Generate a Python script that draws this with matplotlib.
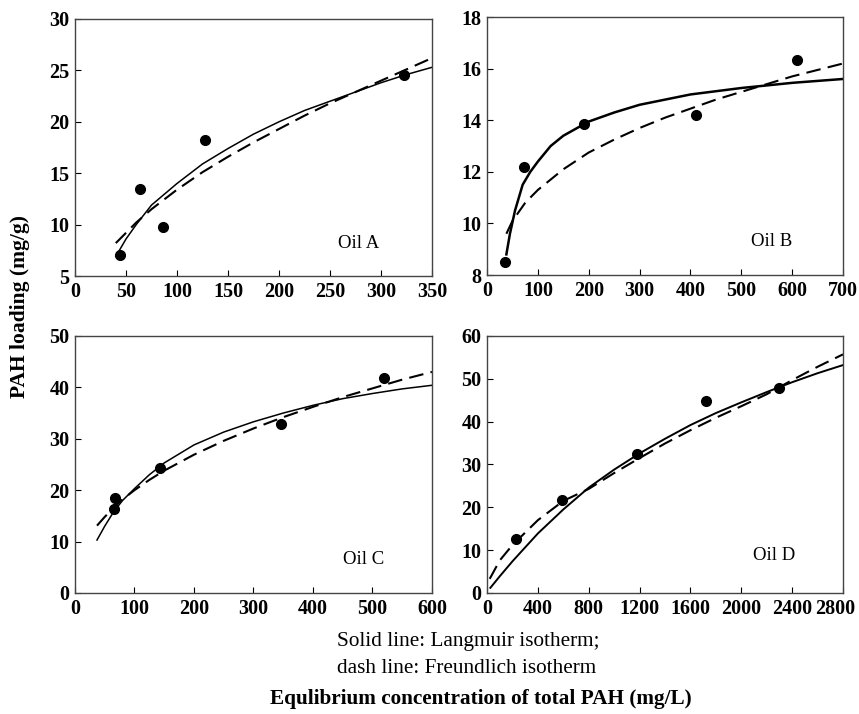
import matplotlib
matplotlib.use("Agg")
import matplotlib.pyplot as plt
from matplotlib.transforms import ScaledTranslation

plt.rcParams['font.family'] = ['Liberation Serif', 'DejaVu Serif']

# measured points (equilibrium conc, PAH loading)
a_x = [44, 64, 86, 127, 323]
a_y = [7.0, 13.5, 9.8, 18.2, 24.6]
b_x = [36, 72, 190, 410, 610]
b_y = [8.5, 12.2, 13.85, 14.2, 16.35]
c_x = [65, 68, 143, 347, 520]
c_y = [16.4, 18.4, 24.4, 32.9, 41.9]
d_x = [231, 590, 1180, 1723, 2294]
d_y = [12.6, 21.7, 32.4, 44.8, 47.9]

# Langmuir fits (solid)
a_lx = [40, 50, 60, 75, 100, 125, 150, 175, 200, 225, 250, 275, 300, 325, 350]
a_ly = [6.9, 8.6, 10.0, 11.9, 14.0, 15.9, 17.4, 18.8, 20.0, 21.1, 22.0, 22.9, 23.8, 24.6, 25.3]
b_lx = [38, 45, 55, 70, 85, 100, 125, 150, 200, 250, 300, 400, 500, 600, 700]
b_ly = [8.8, 9.6, 10.5, 11.5, 12.0, 12.4, 13.0, 13.4, 13.95, 14.3, 14.6, 15.0, 15.25, 15.45, 15.6]
c_lx = [37, 50, 65, 80, 100, 125, 150, 200, 250, 300, 350, 400, 450, 500, 550, 600]
c_ly = [10.3, 13.0, 15.8, 18.0, 20.3, 23.0, 25.3, 28.8, 31.3, 33.3, 35.0, 36.5, 37.8, 38.8, 39.7, 40.4]
d_lx = [26, 100, 200, 400, 600, 800, 1000, 1200, 1400, 1600, 1800, 2000, 2200, 2400, 2600, 2800]
d_ly = [1.2, 3.9, 7.4, 13.9, 19.5, 24.6, 28.8, 32.6, 36.0, 39.2, 42.0, 44.5, 46.9, 49.2, 51.3, 53.2]

# Freundlich fits (dashed)
a_fx = [40, 50, 60, 75, 100, 125, 150, 175, 200, 225, 250, 275, 300, 325, 350]
a_fy = [8.2, 9.2, 10.2, 11.5, 13.4, 15.1, 16.6, 18.0, 19.3, 20.6, 21.8, 22.9, 24.0, 25.1, 26.2]
b_fx = [38, 50, 75, 100, 150, 200, 250, 300, 350, 400, 450, 500, 550, 600, 650, 700]
b_fy = [9.6, 10.1, 10.8, 11.3, 12.1, 12.75, 13.25, 13.7, 14.1, 14.45, 14.8, 15.1, 15.4, 15.7, 15.95, 16.2]
c_fx = [37, 50, 65, 80, 100, 125, 150, 200, 250, 300, 350, 400, 450, 500, 550, 600]
c_fy = [13.1, 14.8, 16.6, 18.2, 20.0, 22.0, 23.8, 26.9, 29.6, 32.0, 34.2, 36.2, 38.1, 39.8, 41.5, 43.0]
d_fx = [21, 100, 200, 400, 600, 800, 1000, 1200, 1400, 1600, 1800, 2000, 2200, 2400, 2600, 2800]
d_fy = [3.3, 7.6, 11.2, 17.0, 21.5, 24.3, 28.0, 31.5, 34.9, 38.0, 40.9, 43.6, 46.4, 49.7, 52.8, 55.7]

panels = [
    ('Oil A', a_x, a_y, a_lx, a_ly, a_fx, a_fy, (0, 350), range(0, 351, 50), (5, 30), range(5, 31, 5), (278, 8.2), 1.1),
    ('Oil B', b_x, b_y, b_lx, b_ly, b_fx, b_fy, (0, 700), range(0, 701, 100), (8, 18), range(8, 19, 2), (560, 9.3), 1.8),
    ('Oil C', c_x, c_y, c_lx, c_ly, c_fx, c_fy, (0, 600), range(0, 601, 100), (0, 50), range(0, 51, 10), (485, 6.5), 1.1),
    ('Oil D', d_x, d_y, d_lx, d_ly, d_fx, d_fy, (0, 2800), range(0, 2801, 400), (0, 60), range(0, 61, 10), (2255, 8.7), 1.4),
]

fig = plt.figure(figsize=(8.59, 7.14), dpi=100)
boxes = [
    [0.0873, 0.6134, 0.4156, 0.36],
    [0.5670, 0.6148, 0.4144, 0.3613],
    [0.0873, 0.1695, 0.4156, 0.36],
    [0.5670, 0.1695, 0.4144, 0.36],
]

for box, p in zip(boxes, panels):
    name, px, py, lx, ly, fx, fy, xl, xt, yl, yt, tpos, lw = p
    ax = fig.add_axes(box)
    ax.plot(lx, ly, color='black', lw=lw)
    ax.plot(fx, fy, color='black', lw=1.5, dashes=(7, 3.5))
    ax.plot(px, py, 'o', color='black', ms=7, zorder=5)
    ax.set_xlim(*xl)
    ax.set_ylim(*yl)
    ax.set_xticks(list(xt))
    ax.set_yticks(list(yt))
    ax.tick_params(direction='in', length=4, width=0.8, labelsize=14.5, pad=4)
    for lab in ax.get_xticklabels() + ax.get_yticklabels():
        lab.set_fontweight('bold')
    for s in ax.spines.values():
        s.set_linewidth(1.0)
        s.set_color('#444444')
    ax.text(tpos[0], tpos[1], name, fontsize=13.5, ha='center', va='center')

# last tick label of panel D sits a bit left so it stays inside the figure
last = fig.axes[3].get_xticklabels()[-1]
last.set_transform(last.get_transform() + ScaledTranslation(-6 / 72, 0, fig.dpi_scale_trans))

fig.text(0.023, 0.571, 'PAH loading (mg/g)', rotation=90, fontsize=15.5,
         fontweight='bold', ha='center', va='center')
fig.text(0.392, 0.101, 'Solid line: Langmuir isotherm;', fontsize=15.3, ha='left', va='center')
fig.text(0.392, 0.064, 'dash line: Freundlich isotherm', fontsize=15.3, ha='left', va='center')
fig.text(0.56, 0.021, 'Equlibrium concentration of total PAH (mg/L)', fontsize=15.3,
         fontweight='bold', ha='center', va='center')

fig.savefig('out.png', dpi=100)
